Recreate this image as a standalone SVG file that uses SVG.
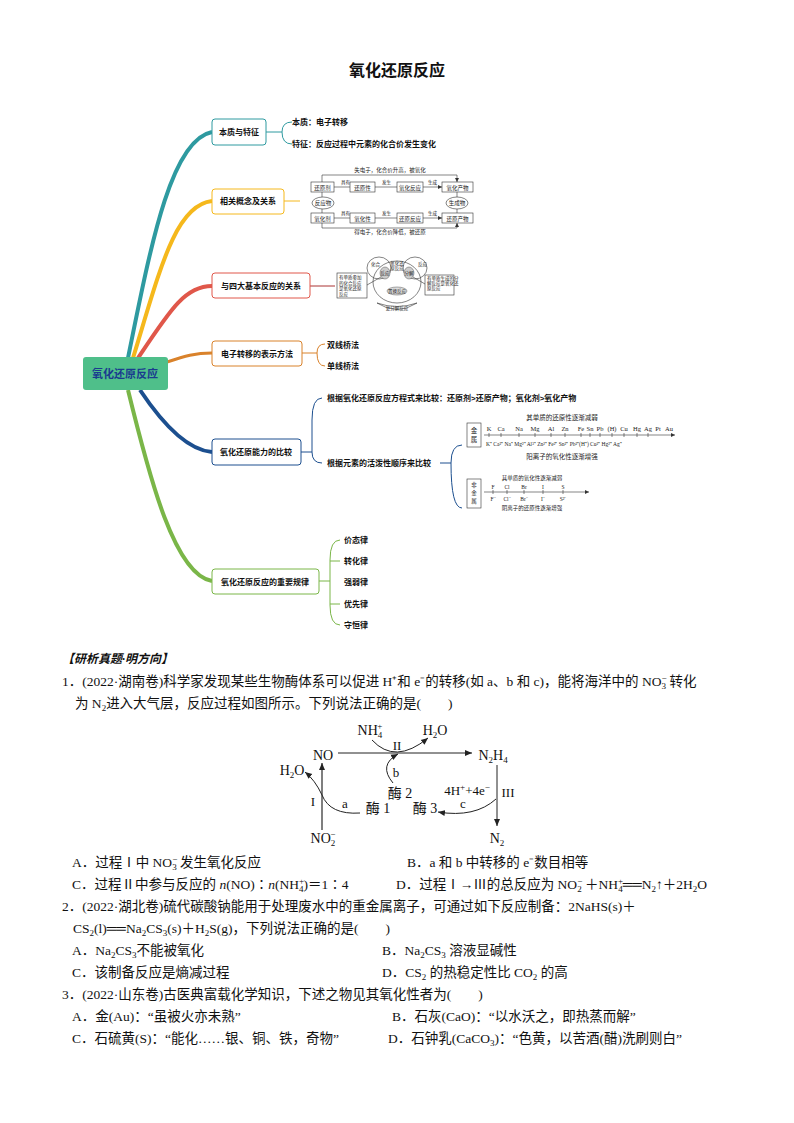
<svg xmlns="http://www.w3.org/2000/svg" width="794" height="1123" viewBox="0 0 794 1123">
<style>
.t{font-family:"Liberation Sans","Noto Sans CJK SC",sans-serif;font-weight:bold;font-size:8px;fill:#111}
.s{font-family:"Liberation Serif","Noto Sans CJK SC",serif;fill:#222}
.q{font-family:"Liberation Serif","Noto Sans CJK SC",serif;font-size:13.5px;fill:#111}
.f{font-family:"Liberation Serif","Noto Sans CJK SC",serif;font-size:14px;fill:#111}
.nb{fill:#fff;stroke-width:1}
.ln{fill:none;stroke:#333;stroke-width:0.6}
.ar{fill:none;stroke:#222;stroke-width:1}
.sb{font-size:9px}
</style>
<defs>
<marker id="a" markerWidth="8" markerHeight="8" refX="7" refY="4" orient="auto" markerUnits="userSpaceOnUse"><path d="M0,1 L7,4 L0,7 z" fill="#222"/></marker>
<marker id="as" markerWidth="5" markerHeight="5" refX="4" refY="2.5" orient="auto" markerUnits="userSpaceOnUse"><path d="M0,0.5 L4,2.5 L0,4.5 z" fill="#333"/></marker>
</defs>
<rect width="794" height="1123" fill="#fff"/>
<text x="397" y="76" text-anchor="middle" font-family="Liberation Sans,Noto Sans CJK SC,sans-serif" font-weight="bold" font-size="16" fill="#111">氧化还原反应</text>

<g id="connectors">
<path d="M128,358 C150,250 170,140 212,132" fill="none" stroke="#2e9aa0" stroke-width="4"/>
<path d="M133,358 C160,270 175,205 212,201" fill="none" stroke="#f5b81c" stroke-width="4"/>
<path d="M138,358 C170,310 185,286 212,286" fill="none" stroke="#e0574a" stroke-width="4"/>
<path d="M167,362 C185,356 195,353 212,353" fill="none" stroke="#d9822b" stroke-width="3"/>
<path d="M140,390 C160,420 185,450 212,452" fill="none" stroke="#1c4f8f" stroke-width="4"/>
<path d="M128,390 C150,480 175,575 212,581" fill="none" stroke="#7ab648" stroke-width="4"/>
<path d="M266,132 H282 M292,122 Q282,122 282,132 Q282,144 292,144" fill="none" stroke="#2e9aa0" stroke-width="1"/>
<path d="M284,201 H300" fill="none" stroke="#f5b81c" stroke-width="1"/>
<path d="M310,286 H335" fill="none" stroke="#a33" stroke-width="1"/>
<path d="M302,353 H317 M325,344 Q317,344 317,353 Q317,366 325,366" fill="none" stroke="#d9822b" stroke-width="1"/>
<path d="M301,452 H312 M322,398 Q312,398 312,420 L312,452 Q312,463 322,463" fill="none" stroke="#1c4f8f" stroke-width="1"/>
<path d="M440,463 H451 M462,445 Q451,445 451,463 Q451,508 462,508" fill="none" stroke="#1c4f8f" stroke-width="1"/>
<path d="M319,581 H330 M340,540 Q330,540 330,560 L330,605 Q330,625 340,625 M330,561 H340 M330,604 H340" fill="none" stroke="#7ab648" stroke-width="1"/>
</g>

<g id="root"><rect x="83" y="357" width="85" height="33" rx="3" fill="#4fbf8a"/><text x="125" y="378" text-anchor="middle" font-family="Liberation Sans,Noto Sans CJK SC,sans-serif" font-weight="bold" font-size="11" fill="#1a3b8f">氧化还原反应</text></g>
<g id="n1"><rect x="212" y="119" width="54" height="26" rx="3" class="nb" stroke="#2e9aa0"/><text x="239" y="135" text-anchor="middle" class="t">本质与特征</text></g>
<g id="n2"><rect x="212" y="189" width="72" height="25" rx="3" class="nb" stroke="#f5b81c"/><text x="248" y="204" text-anchor="middle" class="t">相关概念及关系</text></g>
<g id="n3"><rect x="212" y="273" width="98" height="25" rx="3" class="nb" stroke="#e0574a"/><text x="261" y="289" text-anchor="middle" class="t">与四大基本反应的关系</text></g>
<g id="n4"><rect x="212" y="341" width="90" height="25" rx="3" class="nb" stroke="#d9822b"/><text x="257" y="357" text-anchor="middle" class="t">电子转移的表示方法</text></g>
<g id="n5"><rect x="212" y="439" width="89" height="26" rx="3" class="nb" stroke="#1c4f8f"/><text x="256" y="455" text-anchor="middle" class="t">氧化还原能力的比较</text></g>
<g id="n6"><rect x="212" y="569" width="107" height="25" rx="3" class="nb" stroke="#7ab648"/><text x="265" y="585" text-anchor="middle" class="t">氧化还原反应的重要规律</text></g>

<g id="leaves">
<text x="292" y="125" class="t">本质：电子转移</text>
<text x="292" y="147" class="t">特征：反应过程中元素的化合价发生变化</text>
<text x="327" y="348" class="t">双线桥法</text>
<text x="327" y="369" class="t">单线桥法</text>
<text x="327" y="401" class="t">根据氧化还原反应方程式来比较：还原剂&gt;还原产物；氧化剂&gt;氧化产物</text>
<text x="327" y="466" class="t">根据元素的活泼性顺序来比较</text>
<text x="344" y="543" class="t">价态律</text>
<text x="344" y="564" class="t">转化律</text>
<text x="344" y="585" class="t">强弱律</text>
<text x="344" y="607" class="t">优先律</text>
<text x="344" y="628" class="t">守恒律</text>
</g>

<g id="concept" class="s" font-size="5.5">
<text x="390" y="172" text-anchor="middle">失电子，化合价升高，被氧化</text>
<path d="M322,182 V175 H457 V182" class="ln" marker-end="url(#as)"/>
<rect x="311" y="182" width="23" height="10" class="ln"/><text x="322.5" y="189.5" text-anchor="middle">还原剂</text>
<rect x="350" y="182" width="25" height="10" class="ln"/><text x="362.5" y="189.5" text-anchor="middle">还原性</text>
<rect x="397" y="182" width="26" height="10" class="ln"/><text x="410" y="189.5" text-anchor="middle">氧化反应</text>
<rect x="442" y="182" width="31" height="10" class="ln"/><text x="457.5" y="189.5" text-anchor="middle">氧化产物</text>
<path d="M334,187 H350 M375,187 H397 M423,187 H442" class="ln" marker-end="url(#as)"/>
<text x="341" y="184" font-size="4.5">具有</text><text x="382" y="184" font-size="4.5">发生</text><text x="428" y="184" font-size="4.5">生成</text>
<ellipse cx="323" cy="203" rx="11" ry="6" class="ln"/><text x="323" y="205" text-anchor="middle">反应物</text>
<ellipse cx="457" cy="203" rx="11" ry="6" class="ln"/><text x="457" y="205" text-anchor="middle">生成物</text>
<path d="M322,192 V197 M322,209 V213 M457,192 V197 M457,209 V213" class="ln"/>
<rect x="311" y="213" width="23" height="10" class="ln"/><text x="322.5" y="220.5" text-anchor="middle">氧化剂</text>
<rect x="350" y="213" width="25" height="10" class="ln"/><text x="362.5" y="220.5" text-anchor="middle">氧化性</text>
<rect x="397" y="213" width="26" height="10" class="ln"/><text x="410" y="220.5" text-anchor="middle">还原反应</text>
<rect x="442" y="213" width="31" height="10" class="ln"/><text x="457.5" y="220.5" text-anchor="middle">还原产物</text>
<path d="M334,218 H350 M375,218 H397 M423,218 H442" class="ln" marker-end="url(#as)"/>
<text x="341" y="215" font-size="4.5">具有</text><text x="382" y="215" font-size="4.5">发生</text><text x="428" y="215" font-size="4.5">生成</text>
<path d="M322,223 V228 H457 V223" class="ln" marker-end="url(#as)"/>
<text x="390" y="234" text-anchor="middle">得电子，化合价降低，被还原</text>
</g>

<g id="venn" class="s" font-size="4.5">
<rect x="337" y="273" width="30" height="25" class="ln"/>
<text x="339" y="279">有单质参加</text><text x="339" y="284.5">的化合反应</text><text x="339" y="290">是氧化还原</text><text x="339" y="295.5">反应</text>
<rect x="425" y="275" width="29" height="20" class="ln"/>
<text x="427" y="280">有单质生成的分</text><text x="427" y="285">解反应是氧化还</text><text x="427" y="290">原反应</text>
<ellipse cx="397" cy="282" rx="24" ry="21" class="ln"/>
<ellipse cx="379" cy="268" rx="12" ry="11" class="ln"/>
<ellipse cx="415" cy="268" rx="12" ry="11" class="ln"/>
<ellipse cx="385" cy="273" rx="5" ry="6" fill="#ccc" stroke="#333" stroke-width="0.4"/>
<ellipse cx="409" cy="273" rx="5" ry="6" fill="#ccc" stroke="#333" stroke-width="0.4"/>
<text x="371" y="266">化合</text><text x="418" y="266">反应</text>
<text x="385" y="275" text-anchor="middle">反应</text><text x="409" y="275" text-anchor="middle">分解</text>
<text x="397" y="265" text-anchor="middle">氧化还</text><text x="397" y="270" text-anchor="middle">原反应</text>
<ellipse cx="397" cy="291" rx="10" ry="4" fill="#ddd" stroke="#333" stroke-width="0.4"/><text x="397" y="292.5" text-anchor="middle">置换反应</text>
<path d="M377,303 Q397,316 417,303 Q397,310 377,303 z" class="ln"/><text x="397" y="310" text-anchor="middle">复分解反应</text>
<path d="M367,285 L381,277 M425,284 L413,277" class="ln"/>
</g>

<g id="metal" class="s" font-size="6.5">
<text x="562" y="420" text-anchor="middle">其单质的还原性逐渐减弱</text>
<rect x="467" y="423" width="14" height="24" class="ln"/><text x="474" y="433" text-anchor="middle">金</text><text x="474" y="442" text-anchor="middle">属</text>
<path d="M484,435 H675" class="ln" marker-end="url(#as)"/>
<g text-anchor="middle">
<text x="489" y="431">K</text><text x="501" y="431">Ca</text><text x="519" y="431">Na</text><text x="535" y="431">Mg</text><text x="551" y="431">Al</text><text x="565" y="431">Zn</text><text x="581" y="431">Fe</text><text x="590" y="431">Sn</text><text x="600" y="431">Pb</text><text x="612" y="431">(H)</text><text x="624" y="431">Cu</text><text x="637" y="431">Hg</text><text x="648" y="431">Ag</text><text x="658" y="431">Pt</text><text x="669" y="431">Au</text>
</g>
<path d="M489,433 v4 M501,433 v4 M519,433 v4 M535,433 v4 M551,433 v4 M565,433 v4 M581,433 v4 M590,433 v4 M600,433 v4 M612,433 v4 M624,433 v4 M637,433 v4 M648,433 v4" class="ln"/>
<text x="486" y="446" font-size="5.5">K⁺ Ca²⁺ Na⁺ Mg²⁺ Al³⁺ Zn²⁺ Fe²⁺ Sn²⁺ Pb²⁺(H⁺) Cu²⁺ Hg²⁺ Ag⁺</text>
<text x="562" y="459" text-anchor="middle">阳离子的氧化性逐渐增强</text>
</g>
<g id="nonmetal" class="s" font-size="5.5">
<text x="532" y="480" text-anchor="middle">其单质的氧化性逐渐减弱</text>
<rect x="467" y="479" width="14" height="29" class="ln"/><text x="474" y="487" text-anchor="middle">非</text><text x="474" y="495" text-anchor="middle">金</text><text x="474" y="503" text-anchor="middle">属</text>
<path d="M484,492 H589" class="ln" marker-end="url(#as)"/>
<g text-anchor="middle"><text x="493" y="489">F</text><text x="507" y="489">Cl</text><text x="524" y="489">Br</text><text x="543" y="489">I</text><text x="563" y="489">S</text>
<text x="493" y="501">F⁻</text><text x="507" y="501">Cl⁻</text><text x="524" y="501">Br⁻</text><text x="543" y="501">I⁻</text><text x="563" y="501">S²⁻</text></g>
<path d="M493,490 v4 M507,490 v4 M524,490 v4 M543,490 v4 M563,490 v4" class="ln"/>
<text x="532" y="510" text-anchor="middle">阴离子的还原性逐渐增强</text>
</g>

<g id="questions">
<text x="62" y="663" font-family="Liberation Serif,Noto Sans CJK SC,serif" font-size="12" font-weight="bold" font-style="italic" fill="#111">【研析真题·明方向】</text>
<text x="62" y="686" class="q">1．(2022·湖南卷)科学家发现某些生物酶体系可以促进 H⁺和 e⁻的转移(如 a、b 和 c)，能将海洋中的 NO<tspan class="sb" dy="-5">−</tspan><tspan class="sb" dx="-5" dy="8">3</tspan><tspan dy="-3"> 转化</tspan></text>
<text x="75" y="708" class="q">为 N<tspan class="sb" dy="3">2</tspan><tspan dy="-3">进入大气层，反应过程如图所示。下列说法正确的是(　　)</tspan></text>

<g id="fig" class="f">
<text x="323" y="760" text-anchor="middle">NO</text>
<text x="493" y="760" text-anchor="middle">N<tspan class="sb" dy="3">2</tspan><tspan dy="-3">H</tspan><tspan class="sb" dy="3">4</tspan></text>
<path d="M338,753 H472" class="ar" marker-end="url(#a)"/>
<text x="292" y="775" text-anchor="middle">H<tspan class="sb" dy="3">2</tspan><tspan dy="-3">O</tspan></text>
<text x="370" y="735" text-anchor="middle">NH<tspan class="sb" dy="3">4</tspan><tspan class="sb" dx="-5" dy="-9">+</tspan></text>
<text x="435" y="735" text-anchor="middle">H<tspan class="sb" dy="3">2</tspan><tspan dy="-3">O</tspan></text>
<text x="397" y="750" text-anchor="middle" font-size="13">II</text>
<path d="M372,740 Q395,765 428,738" class="ar" marker-end="url(#a)"/>
<path d="M393,783 Q378,765 398,754" class="ar" marker-end="url(#a)"/>
<text x="396" y="777" text-anchor="middle" font-size="13">b</text>
<text x="400" y="798" text-anchor="middle">酶 2</text>
<path d="M322,830 V763" fill="none" stroke="#555" stroke-width="1.5" marker-end="url(#a)"/>
<text x="313" y="806" text-anchor="middle" font-size="13">I</text>
<path d="M360,813 Q330,815 322,795 Q315,780 305,772" class="ar" marker-end="url(#a)"/>
<text x="345" y="808" text-anchor="middle" font-size="13">a</text>
<text x="378" y="813" text-anchor="middle">酶 1</text>
<text x="425" y="813" text-anchor="middle">酶 3</text>
<text x="467" y="795" text-anchor="middle" font-size="13">4H<tspan class="sb" dy="-5">+</tspan><tspan dy="5">+4e</tspan><tspan class="sb" dy="-5">−</tspan></text>
<text x="508" y="797" text-anchor="middle" font-size="13">III</text>
<path d="M496,799 Q475,818 438,812" class="ar" marker-end="url(#a)"/>
<text x="463" y="808" text-anchor="middle" font-size="13">c</text>
<path d="M497,765 V826" class="ar" marker-end="url(#a)"/>
<text x="323" y="843" text-anchor="middle">NO<tspan class="sb" dy="3">2</tspan><tspan class="sb" dx="-5" dy="-9">−</tspan></text>
<text x="497" y="843" text-anchor="middle">N<tspan class="sb" dy="3">2</tspan></text>
</g>

<text x="72" y="867" class="q">A．过程Ⅰ中 NO<tspan class="sb" dy="-5">−</tspan><tspan class="sb" dx="-5" dy="8">3</tspan><tspan dy="-3"> 发生氧化反应</tspan></text>
<text x="407" y="867" class="q">B．a 和 b 中转移的 e⁻数目相等</text>
<text x="72" y="889" class="q">C．过程Ⅱ中参与反应的 <tspan font-style="italic">n</tspan>(NO)∶<tspan font-style="italic">n</tspan>(NH<tspan class="sb" dy="-5">+</tspan><tspan class="sb" dx="-5" dy="8">4</tspan><tspan dy="-3">)＝1∶4</tspan></text>
<text x="396" y="889" class="q">D．过程Ⅰ→Ⅲ的总反应为 NO<tspan class="sb" dy="-5">−</tspan><tspan class="sb" dx="-5" dy="8">2</tspan><tspan dy="-3"> ＋NH</tspan><tspan class="sb" dy="-5">+</tspan><tspan class="sb" dx="-5" dy="8">4</tspan><tspan dy="-3">══N</tspan><tspan class="sb" dy="3">2</tspan><tspan dy="-3">↑＋2H</tspan><tspan class="sb" dy="3">2</tspan><tspan dy="-3">O</tspan></text>
<text x="62" y="911" class="q">2．(2022·湖北卷)硫代碳酸钠能用于处理废水中的重金属离子，可通过如下反应制备：2NaHS(s)＋</text>
<text x="73" y="933" class="q">CS<tspan class="sb" dy="3">2</tspan><tspan dy="-3">(l)══Na</tspan><tspan class="sb" dy="3">2</tspan><tspan dy="-3">CS</tspan><tspan class="sb" dy="3">3</tspan><tspan dy="-3">(s)＋H</tspan><tspan class="sb" dy="3">2</tspan><tspan dy="-3">S(g)，下列说法正确的是(　　)</tspan></text>
<text x="72" y="955" class="q">A．Na<tspan class="sb" dy="3">2</tspan><tspan dy="-3">CS</tspan><tspan class="sb" dy="3">3</tspan><tspan dy="-3">不能被氧化</tspan></text>
<text x="382" y="955" class="q">B．Na<tspan class="sb" dy="3">2</tspan><tspan dy="-3">CS</tspan><tspan class="sb" dy="3">3</tspan><tspan dy="-3"> 溶液显碱性</tspan></text>
<text x="72" y="977" class="q">C．该制备反应是熵减过程</text>
<text x="382" y="977" class="q">D．CS<tspan class="sb" dy="3">2</tspan><tspan dy="-3"> 的热稳定性比 CO</tspan><tspan class="sb" dy="3">2</tspan><tspan dy="-3"> 的高</tspan></text>
<text x="62" y="999" class="q">3．(2022·山东卷)古医典富载化学知识，下述之物见其氧化性者为(　　)</text>
<text x="72" y="1021" class="q">A．金(Au)：“虽被火亦未熟”</text>
<text x="392" y="1021" class="q">B．石灰(CaO)：“以水沃之，即热蒸而解”</text>
<text x="72" y="1043" class="q">C．石硫黄(S)：“能化……银、铜、铁，奇物”</text>
<text x="388" y="1043" class="q">D．石钟乳(CaCO<tspan class="sb" dy="3">3</tspan><tspan dy="-3">)：“色黄，以苦酒(醋)洗刷则白”</tspan></text>
</g>
</svg>
